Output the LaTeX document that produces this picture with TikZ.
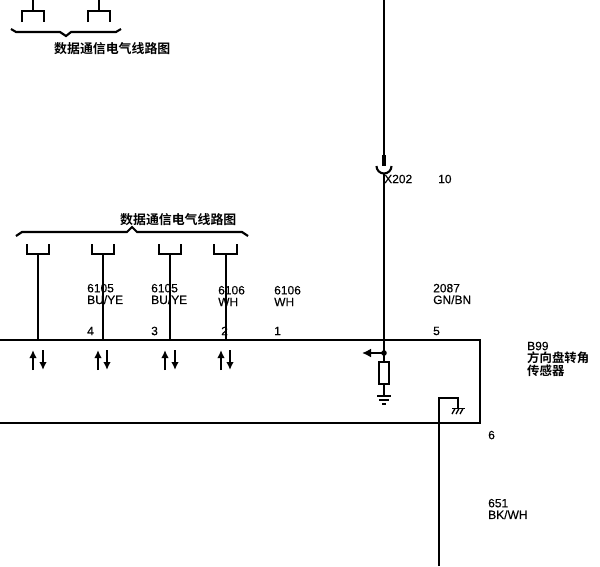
\documentclass[tikz,border=0pt]{standalone}
\usepackage{fontspec}
\usetikzlibrary{arrows.meta}
\setmainfont[FakeBold=0.25]{Liberation Sans}
\newfontfamily\cjk{Noto Sans CJK SC Bold}

\def\busbrace{-- ++(6,-4) -- ++(105,0) -- ++(5,-5) -- ++(5,5) -- ++(105,0) -- ++(6,4)}

\tikzset{
    wire/.style={line width=2.1pt, line cap=butt},
    thinwire/.style={line width=1.7pt},
    pinlabel/.style={inner sep=0pt, anchor=west, font=\fontsize{12}{11.7}\selectfont, align=left},
    titlelabel/.style={inner sep=0pt, anchor=west, font=\cjk\fontsize{12.9}{12.9}\selectfont},
    updown/.style={line width=2pt, -{Latex[length=8pt, width=7.5pt]}},
}

\begin{document}
\begin{tikzpicture}[x=1pt, y=-1pt]

    \useasboundingbox (0,0) rectangle (600,566);

    % upper left connectors
    \draw[wire] (33,0) -- (33,11);
    \draw[wire] (22,22) -- (22,11) -- (44,11) -- (44,22);
    \draw[wire] (99,0) -- (99,11);
    \draw[wire] (88,22) -- (88,11) -- (110,11) -- (110,22);
    \draw[wire] (11,29) -- (16,32) -- (60,32) -- (66,36) -- (71,32) -- (116,32) -- (121,29);
    \node[titlelabel] (topbus) at (54,48.5) {数据通信电气线路图};

    % data bus
    \node[titlelabel] (databus) at (120,219.5) {数据通信电气线路图};
    \draw[wire] (16,236) \busbrace;

    % module outline
    \coordinate (boxtl) at (0,340);
    \coordinate (boxtr) at (480,340);
    \coordinate (boxbr) at (480,423);
    \coordinate (boxbl) at (0,423);
    \draw[wire] (boxtl) -- (boxtr) -- (boxbr) -- (boxbl);

    % sockets and their wires
    \coordinate (pinA) at (38,340);
    \coordinate (pinB) at (103,340);
    \coordinate (pinC) at (170,340);
    \coordinate (pinD) at (226,340);
    \draw[wire] (27,244) -- (27,254) -- (49,254) -- (49,244);
    \draw[wire] (38,254) -- (pinA);
    \draw[wire] (92,244) -- (92,254) -- (114,254) -- (114,244);
    \draw[wire] (103,254) -- (pinB);
    \draw[wire] (159,244) -- (159,254) -- (181,254) -- (181,244);
    \draw[wire] (170,254) -- (pinC);
    \draw[wire] (214,244) -- (214,254) -- (237,254) -- (237,244);
    \draw[wire] (226,254) -- (pinD);

    % bus direction arrows
    \draw[updown] (33,370) -- (33,350);
    \draw[updown] (43,350) -- (43,370);
    \draw[updown] (98,370) -- (98,350);
    \draw[updown] (107,350) -- (107,370);
    \draw[updown] (165,370) -- (165,350);
    \draw[updown] (175,350) -- (175,370);
    \draw[updown] (221,370) -- (221,350);
    \draw[updown] (230,350) -- (230,370);

    % wire labels
    \node[pinlabel] (w6105a) at (87,294) {6105\\BU/YE};
    \node[pinlabel] (w6105b) at (151,294) {6105\\BU/YE};
    \node[pinlabel] (w6106a) at (218,296) {6106\\WH};
    \node[pinlabel] (w6106b) at (274,296) {6106\\WH};
    \node[pinlabel] (w2087) at (433,294) {2087\\GN/BN};
    \node[pinlabel] (w651) at (488,509) {651\\BK/WH};

    % pin numbers
    \node[pinlabel] (pin4) at (87,331) {4};
    \node[pinlabel] (pin3) at (151,331) {3};
    \node[pinlabel] (pin2) at (221,331) {2};
    \node[pinlabel] (pin1) at (274,331) {1};
    \node[pinlabel] (pin5) at (433,331) {5};
    \node[pinlabel] (pin6) at (488,435) {6};

    % power feed, X202
    \coordinate (feedtop) at (384,0);
    \coordinate (plug) at (384,166);
    \coordinate (cupend) at (384,174);
    \coordinate (senspoint) at (384,353);
    \draw[wire] (feedtop) -- (384,155);
    \draw[line width=3.6pt] (384,155) -- (plug);
    \draw[wire] (376.5,166) arc[start angle=180, end angle=0, radius=7.5];
    \draw[wire] (cupend) -- (senspoint);
    \node[pinlabel] (x202) at (384,179) {X202};
    \node[pinlabel] (x202pin) at (438,179) {10};

    % sensor input with resistor to ground
    \fill (senspoint) circle (2.8);
    \draw[wire, -{Latex[length=9pt, width=9pt]}] (senspoint) -- (362,353);
    \node[draw, line width=1.9pt, minimum width=10pt, minimum height=22pt, inner sep=0pt] (res) at (384,373) {};
    \draw[wire] (senspoint) -- (res);
    \coordinate (gnd) at (384,396);
    \draw[wire] (res) -- (gnd);
    \draw[thinwire] (377,396) -- (391,396);
    \draw[thinwire] (379,400) -- (389,400);
    \draw[thinwire] (382,404) -- (386,404);

    % case ground, wire 651
    \coordinate (bottom) at (439,566);
    \coordinate (chassis) at (458,408);
    \draw[wire] (bottom) -- (439,398) -- (458,398) -- (chassis);
    \draw[thinwire] (452,408.5) -- (465,408.5);
    \draw[line width=1.3pt] (455,408.5) -- (452,414);
    \draw[line width=1.3pt] (459,408.5) -- (456,414);
    \draw[line width=1.3pt] (463,408.5) -- (460,414);

    % module name
    \node[pinlabel] (b99) at (527,346) {B99};
    \node[titlelabel, font=\cjk\fontsize{12.4}{12.4}\selectfont] (name1) at (527,358) {方向盘转角};
    \node[titlelabel, font=\cjk\fontsize{12.4}{12.4}\selectfont] (name2) at (527,370.5) {传感器};

\end{tikzpicture}
\end{document}
